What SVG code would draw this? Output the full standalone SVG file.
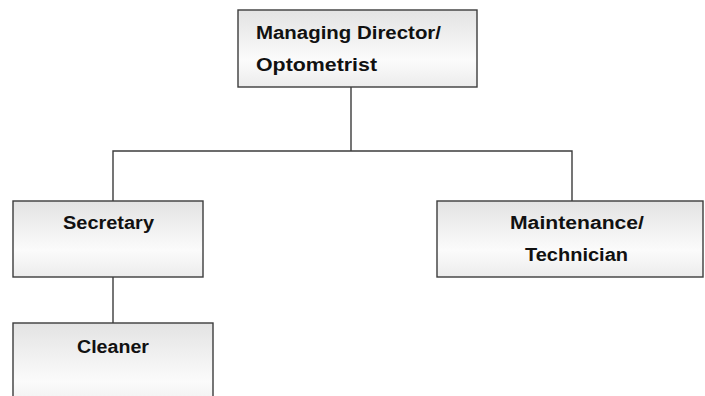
<svg xmlns="http://www.w3.org/2000/svg" width="705" height="396" viewBox="0 0 705 396">
  <style>
    .box { fill: url(#boxFill); stroke: #3c3c3c; stroke-width: 1.4; }
    .label { font-family: "Liberation Sans", Arial, sans-serif; font-weight: bold; font-size: 18px; fill: #111; }
    .link { fill: none; stroke: #3c3c3c; stroke-width: 1.4; }
  </style>
  <defs>
    <linearGradient id="boxFill" x1="0" y1="0" x2="0" y2="1">
      <stop offset="0" stop-color="#e3e3e3"/>
      <stop offset="0.65" stop-color="#fbfbfb"/>
      <stop offset="1" stop-color="#ececec"/>
    </linearGradient>
  </defs>
  <rect width="705" height="396" fill="#ffffff"/>

  <g id="connectors">
    <path class="link" d="M351 87 V151 M113 201 V151 H572 V201"/>
    <path class="link" d="M113 277 V323"/>
  </g>

  <g id="managing-director">
    <rect class="box" x="238" y="10" width="239" height="77"/>
    <text class="label" x="256" y="39" textLength="185" lengthAdjust="spacingAndGlyphs">Managing Director/</text>
    <text class="label" x="256" y="71" textLength="121" lengthAdjust="spacingAndGlyphs">Optometrist</text>
  </g>

  <g id="secretary">
    <rect class="box" x="13" y="201" width="190" height="76"/>
    <text class="label" x="63" y="229" textLength="91" lengthAdjust="spacingAndGlyphs">Secretary</text>
  </g>

  <g id="maintenance">
    <rect class="box" x="437" y="201" width="266" height="76"/>
    <text class="label" x="510" y="229" textLength="134" lengthAdjust="spacingAndGlyphs">Maintenance/</text>
    <text class="label" x="525" y="261" textLength="103" lengthAdjust="spacingAndGlyphs">Technician</text>
  </g>

  <g id="cleaner">
    <rect class="box" x="13" y="323" width="200" height="90"/>
    <text class="label" x="77" y="353" textLength="72" lengthAdjust="spacingAndGlyphs">Cleaner</text>
  </g>
</svg>
